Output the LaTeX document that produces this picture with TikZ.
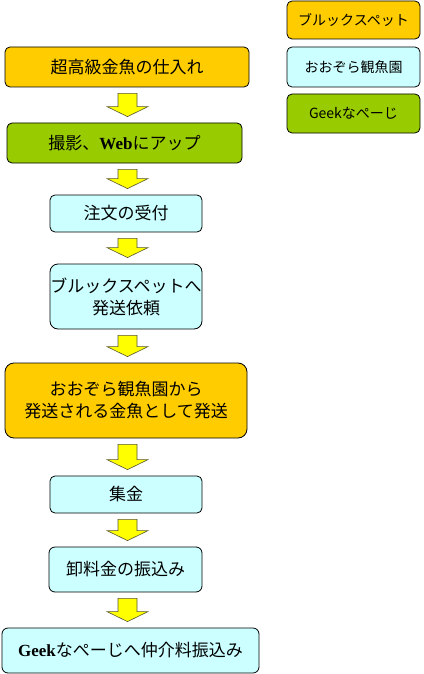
\documentclass[tikz,border=0pt]{standalone}
\usepackage{fontspec}
\setmainfont{Noto Sans CJK JP}
\newfontfamily\latinserif{Liberation Serif}
\usetikzlibrary{calc}
\definecolor{orangebox}{HTML}{FFCC00}
\definecolor{cyanbox}{HTML}{CCFFFF}
\definecolor{greenbox}{HTML}{99CC00}
\definecolor{arrowfill}{HTML}{FFFF00}
\definecolor{arrowline}{HTML}{555533}
\tikzset{
  box/.style={draw=black, line width=0.8pt, rounded corners=5pt, align=center,
    inner sep=0pt, font=\fontsize{17}{22}\selectfont},
  legend/.style={box, minimum width=133pt, font=\fontsize{14}{17}\selectfont},
  blockarrow/.style={draw=arrowline, fill=arrowfill, line width=0.6pt, line join=miter},
}
\newcommand\flowarrow[2]{%
  \path[blockarrow] let \p1=(#1.south), \p2=(#2.north) in
    (118pt,{\y1-6pt}) -- (137pt,{\y1-6pt}) -- (137pt,{\y2+16pt}) -- (148pt,{\y2+16pt})
    -- (127.5pt,{\y2+6pt}) -- (107pt,{\y2+16pt}) -- (118pt,{\y2+16pt}) -- cycle;}
\begin{document}
\begin{tikzpicture}[x=1pt,y=-1pt]
\useasboundingbox (0,0) rectangle (423,674);
% flow boxes
\node[box, fill=orangebox, minimum width=244pt, minimum height=40pt] (b1) at (127,67) {超高級金魚の仕入れ};
\node[box, fill=greenbox, minimum width=235pt, minimum height=40pt] (b2) at (124.5,143) {撮影、{\latinserif\bfseries Web}にアップ};
\node[box, fill=cyanbox, minimum width=152pt, minimum height=37pt] (b3) at (126,213.5) {注文の受付};
\node[box, fill=cyanbox, rounded corners=8pt, minimum width=152pt, minimum height=65pt] (b4) at (126,296.5) {ブルックスペットへ\\発送依頼};
\node[box, fill=orangebox, rounded corners=9pt, minimum width=242pt, minimum height=75pt] (b5) at (126,400.5) {おおぞら観魚園から\\発送される金魚として発送};
\node[box, fill=cyanbox, minimum width=152pt, minimum height=37pt] (b6) at (126,494.5) {集金};
\node[box, fill=cyanbox, rounded corners=6pt, minimum width=153pt, minimum height=45pt] (b7) at (125.5,569.5) {卸料金の振込み};
\node[box, fill=cyanbox, rounded corners=6pt, minimum width=257pt, minimum height=45pt] (b8) at (130.5,650.5) {{\latinserif\bfseries Geek}なぺーじへ仲介料振込み};
% arrows
\flowarrow{b1}{b2}
\flowarrow{b2}{b3}
\flowarrow{b3}{b4}
\flowarrow{b4}{b5}
\flowarrow{b5}{b6}
\flowarrow{b6}{b7}
\flowarrow{b7}{b8}
% legend
\node[legend, fill=orangebox, minimum height=38pt] (l1) at (353.5,20) {ブルックスペット};
\node[legend, fill=cyanbox, minimum height=40pt] (l2) at (353.5,67) {おおぞら観魚園};
\node[legend, fill=greenbox, minimum height=39pt] (l3) at (353.5,113.5) {Geekなぺーじ};
\end{tikzpicture}
\end{document}
